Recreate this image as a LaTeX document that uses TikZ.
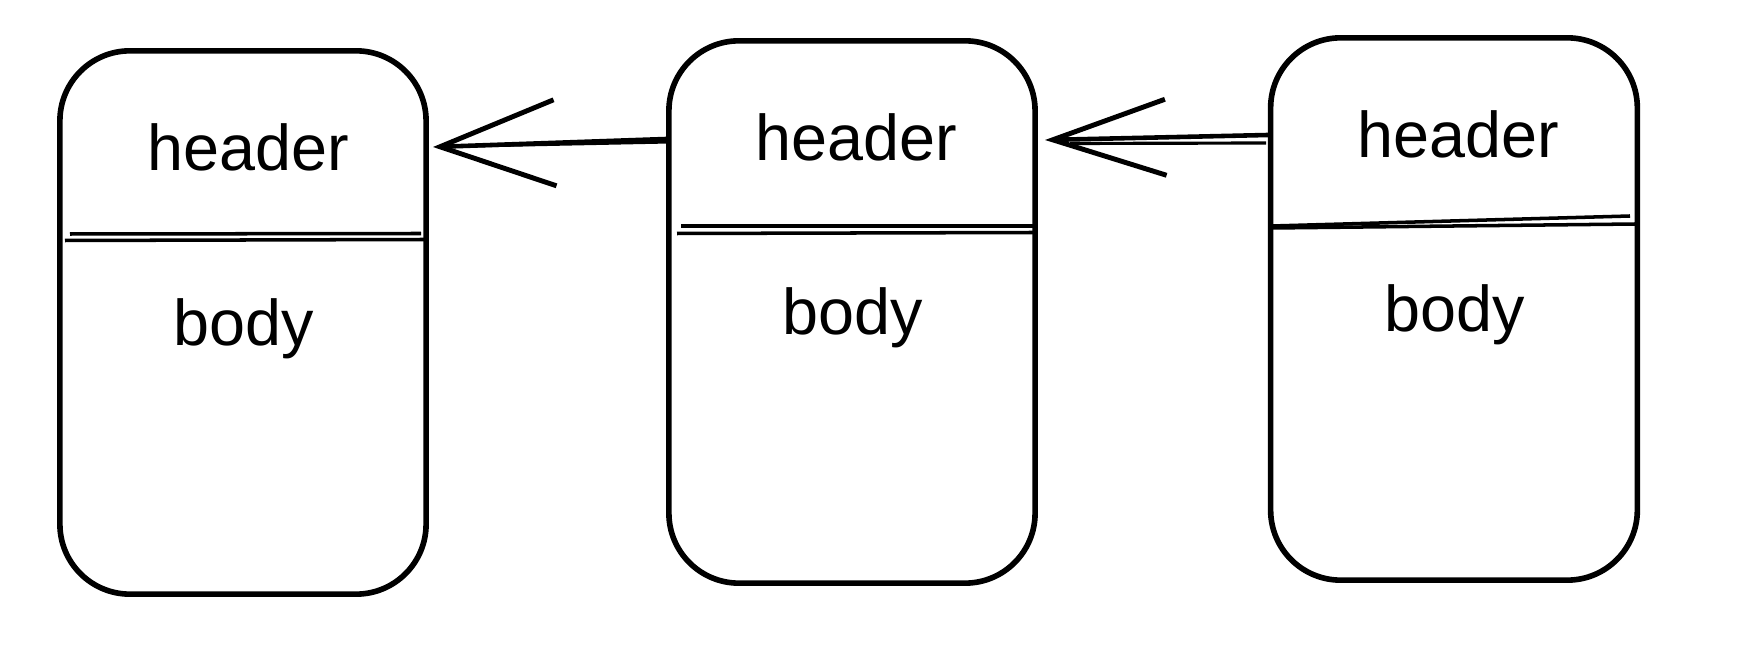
\documentclass[tikz,border=0pt]{standalone}
\usepackage{fontspec}
\setmainfont{Liberation Sans}
\usetikzlibrary{arrows.meta}
\begin{document}
\begin{tikzpicture}[x=0.01cm,y=-0.01cm,
  card/.style={draw=black, line width=1.6pt, rounded corners=0.7cm, inner sep=0pt},
  lbl/.style={font=\fontsize{18.4}{22}\selectfont, inner sep=0pt, anchor=base},
  divider/.style={line width=1pt},
  linkA/.style={line width=1.3pt, -{Straight Barb[length=1.15cm,width=0.86cm,line width=1.4pt]}},
  linkB/.style={line width=1.3pt, -{Straight Barb[length=1.13cm,width=0.76cm,line width=1.4pt]}}]
\useasboundingbox (0,0) rectangle (1750,658);
% cards
\node[card, minimum width=3.66cm, minimum height=5.43cm] (b1) at (243,322.5) {};
\node[card, minimum width=3.66cm, minimum height=5.42cm] (b2) at (852,312) {};
\node[card, minimum width=3.665cm, minimum height=5.42cm] (b3) at (1454,309) {};
% dividers (double stroke)
\draw[divider] (70,234) -- (421,233.5);
\draw[divider] (65,240.5) -- (425,239.5);
\draw[divider] (681,226) -- (1033,226);
\draw[divider] (677,233.5) -- (1034,232.5);
\draw[divider] (1272,226) -- (1630,216);
\draw[divider] (1272,228) -- (1636,224);
% labels
\node[lbl] (h1) at (248,171) {header};
\node[lbl] (d1) at (244,345.5) {body};
\node[lbl] (h2) at (856,161) {header};
\node[lbl] (d2) at (853,335) {body};
\node[lbl] (h3) at (1458,158) {header};
\node[lbl] (d3) at (1455,332) {body};
% connectors
\coordinate (a1) at (433,147);
\coordinate (a2) at (1045,140);
\draw[linkA] (b2.west |- 0,139) -- (a1);
\draw[line width=0.9pt] (b2.west |- 0,142) -- (470,146);
\draw[linkB] (b3.west |- 0,135) -- (a2);
\draw[line width=0.9pt] (1266,143) -- (1070,143.5);
\end{tikzpicture}
\end{document}
